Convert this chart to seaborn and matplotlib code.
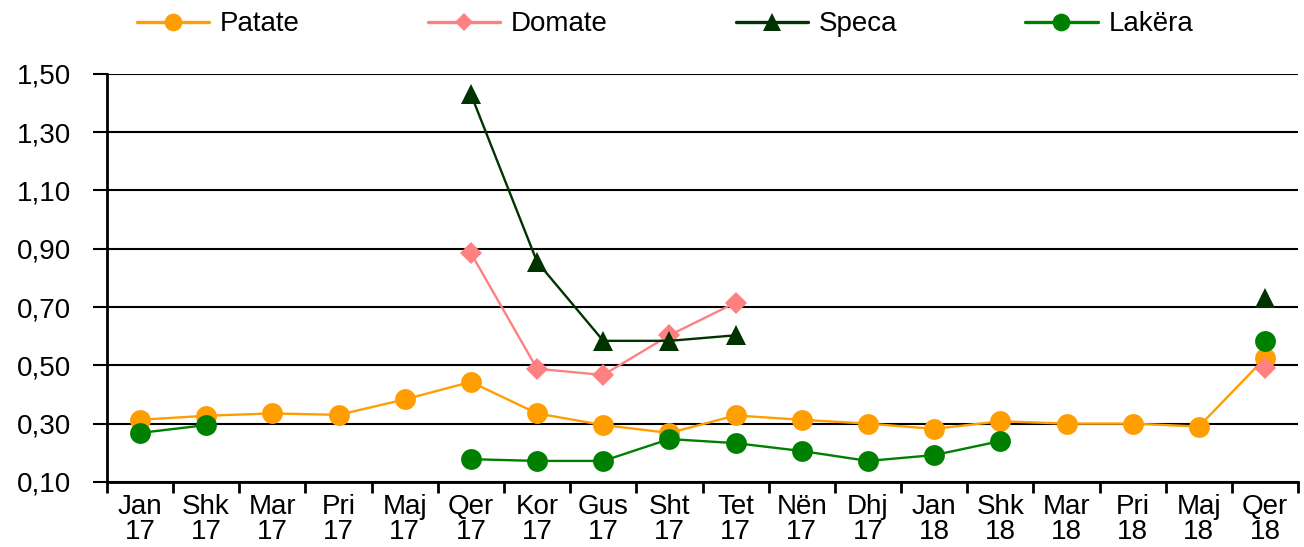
import numpy as np
import pandas as pd
import matplotlib.pyplot as plt
import seaborn as sns
from matplotlib.ticker import FixedLocator, FuncFormatter

# ============================
# Data
# ============================
months = ["Jan\n17", "Shk\n17", "Mar\n17", "Pri\n17", "Maj\n17", "Qer\n17",
          "Kor\n17", "Gus\n17", "Sht\n17", "Tet\n17", "Nën\n17", "Dhj\n17",
          "Jan\n18", "Shk\n18", "Mar\n18", "Pri\n18", "Maj\n18", "Qer\n18"]

nan = np.nan
patate = [0.313, 0.327, 0.335, 0.330, 0.383, 0.443, 0.335, 0.295, 0.268, 0.328,
          0.313, 0.300, 0.282, 0.308, 0.300, 0.300, 0.290, 0.525]
domate = [nan, nan, nan, nan, nan, 0.885, 0.488, 0.467, 0.603, 0.715,
          nan, nan, nan, nan, nan, nan, nan, 0.490]
speca = [nan, nan, nan, nan, nan, 1.430, 0.855, 0.584, 0.584, 0.603,
         nan, nan, nan, nan, nan, nan, nan, 0.730]
lakera = [0.268, 0.295, nan, nan, nan, 0.178, 0.172, 0.172, 0.247, 0.233,
          0.206, 0.172, 0.192, 0.240, nan, nan, nan, 0.582]

series = [
    ("Patate", patate, "#FF9E00", "o", 15),
    ("Domate", domate, "#FF8080", "D", 11),
    ("Speca", speca, "#003300", "^", 15),
    ("Lakëra", lakera, "#008000", "o", 15),
]

# ============================
# Plot
# ============================
sns.set_theme(style="white")
plt.rcParams['font.family'] = ['Liberation Sans', 'DejaVu Sans']
plt.rcParams['text.color'] = 'black'

fig = plt.figure(figsize=(13.04, 5.47), dpi=100)
ax = fig.add_axes([0.082, 0.119, 0.9135, 0.746])

pos = np.arange(len(months))
handles = []
for name, vals, color, marker, ms in series:
    s = pd.Series(vals, index=pos)
    # split into contiguous runs so gaps stay open
    seg_id = s.isna().cumsum()
    for _, seg in s.dropna().groupby(seg_id[s.notna()]):
        sns.lineplot(x=seg.index, y=seg.values, ax=ax, color=color, lw=1.7,
                     marker=marker, markersize=ms, markeredgewidth=0,
                     legend=False)
    handles.append(plt.Line2D([], [], color=color, lw=2.4, marker=marker,
                              markersize=ms * 0.85, markeredgewidth=0))

ax.set_xlim(-0.5, len(months) - 0.5)
ax.set_ylim(0.10, 1.50)
ax.set_yticks(np.arange(0.10, 1.51, 0.20))
ax.yaxis.set_major_formatter(FuncFormatter(lambda v, p: f"{v:.2f}".replace(".", ",")))
ax.set_xticks(pos)
ax.set_xticklabels(months, linespacing=0.92)
ax.xaxis.set_minor_locator(FixedLocator(np.arange(-0.5, len(months), 1.0)))

ax.grid(axis='y', color='black', lw=1.5)
ax.set_axisbelow(True)
for side in ['top', 'right']:
    ax.spines[side].set_visible(False)
for side in ['left', 'bottom']:
    ax.spines[side].set_color('black')
    ax.spines[side].set_linewidth(2)

ax.tick_params(axis='y', which='major', length=10, width=1.5, color='black',
               labelsize=20, pad=16, left=True, labelcolor='black')
ax.tick_params(axis='x', which='major', length=0, labelsize=20, pad=9,
               labelcolor='black')
ax.tick_params(axis='x', which='minor', length=8, width=2, color='black', bottom=True)
ax.set_xlabel("")
ax.set_ylabel("")

fig.legend(handles, [s[0] for s in series], loc='upper center', ncol=4,
           bbox_to_anchor=(0.51, 1.025), frameon=False, fontsize=20,
           handlelength=2.6, columnspacing=4.6, handletextpad=0.4,
           labelcolor='black')

fig.savefig("out.png", dpi=100)
